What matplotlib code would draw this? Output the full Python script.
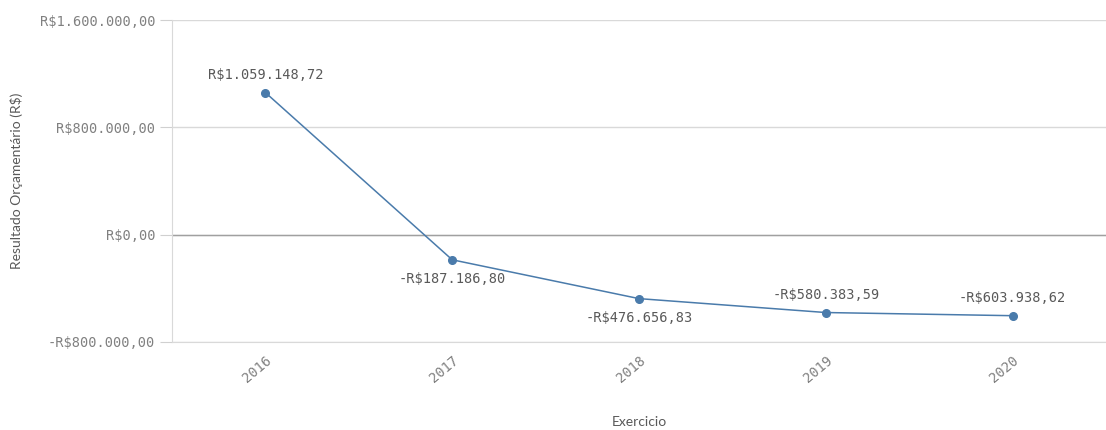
import matplotlib
matplotlib.use("Agg")
import matplotlib.pyplot as plt
from matplotlib.ticker import FuncFormatter

# dados
anos = ["2016", "2017", "2018", "2019", "2020"]
resultado = [1059148.72, -187186.80, -476656.83, -580383.59, -603938.62]
lado_rotulo = ["above", "below", "below", "above", "above"]
yticks = [-800000, 0, 800000, 1600000]


def brl(v, pos=None):
    s = "{:,.2f}".format(abs(v)).replace(",", "X").replace(".", ",").replace("X", ".")
    return ("-R$" if v < 0 else "R$") + s


fig = plt.figure(figsize=(11.06, 4.30), dpi=100)
ax = fig.add_axes([172 / 1106, 1 - 342 / 430, (1106 - 172) / 1106, (342 - 20) / 430])

x = list(range(len(anos)))
ax.plot(x, resultado, color="#4a7bab", lw=1.1, marker="o", ms=5.5, zorder=3)

mono = "DejaVu Sans Mono"
for xi, v, lado in zip(x, resultado, lado_rotulo):
    off = 12.5 if lado == "above" else -14
    ax.annotate(brl(v), (xi, v), xytext=(0, off), textcoords="offset points",
                ha="center", va="center", fontsize=9.8, family=mono, color="#595959")

ax.set_xlim(-0.5, len(anos) - 0.5)
ax.set_ylim(-800000, 1600000)
ax.set_yticks(yticks)
ax.yaxis.set_major_formatter(FuncFormatter(brl))
ax.set_xticks(x)
ax.set_xticklabels(anos, rotation=40, ha="right", rotation_mode="anchor")

for lbl in ax.get_yticklabels() + ax.get_xticklabels():
    lbl.set_family(mono)
    lbl.set_color("#808080")
    lbl.set_fontsize(9.8)

ax.tick_params(axis="y", length=9, color="#d0d0d0", pad=3)
ax.tick_params(axis="x", length=0, pad=8)

ax.grid(axis="y", color="#d9d9d9", lw=1)
ax.axhline(0, color="#a0a0a0", lw=1, zorder=2)
for s in ["top", "right"]:
    ax.spines[s].set_visible(False)
ax.spines["left"].set_color("#d9d9d9")
ax.spines["bottom"].set_color("#d9d9d9")

ax.set_ylabel("Resultado Orçamentário (R$)", fontsize=10, family="Lato", color="#595959")
ax.set_xlabel("Exercicio", fontsize=10, family="Lato", color="#595959")
ax.yaxis.set_label_coords(-(172 - 17) / 934, 0.5)
ax.xaxis.set_label_coords(0.5, -(422 - 342) / 322)
ax.xaxis.label.set_va("center")
ax.yaxis.label.set_va("center")

fig.savefig("out.png", dpi=100)
